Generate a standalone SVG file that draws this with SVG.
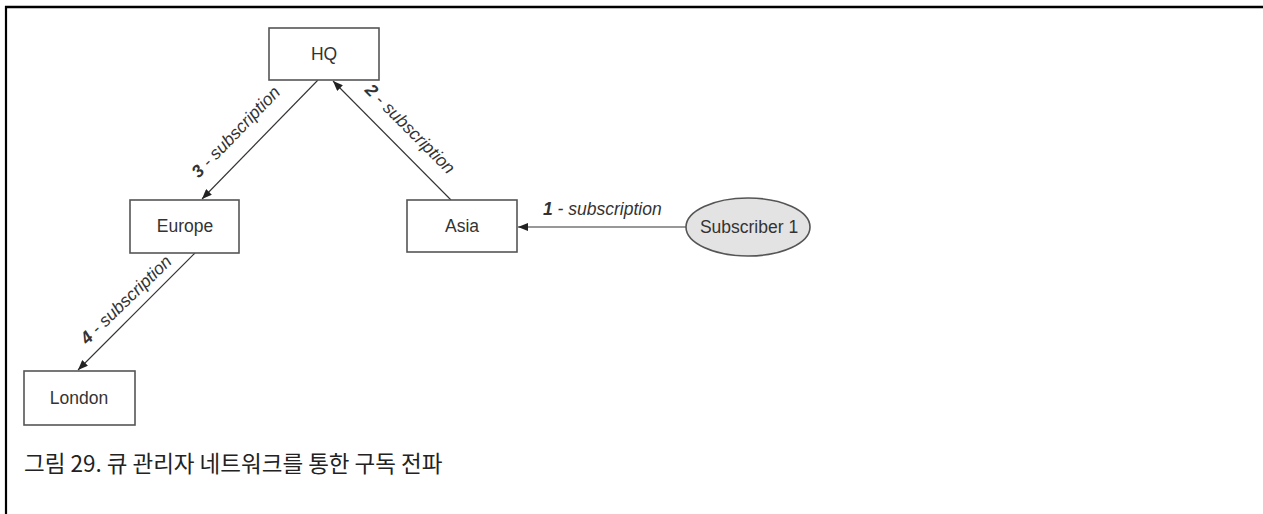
<svg xmlns="http://www.w3.org/2000/svg" width="1263" height="514" viewBox="0 0 1263 514">
<defs>
<style>
.box{fill:#fff;stroke:#555;stroke-width:1.6}
.ell{fill:#e3e3e3;stroke:#555;stroke-width:1.6}
.nl{font-family:"Liberation Sans",Arial,sans-serif;font-size:17.5px;fill:#333;text-anchor:middle}
.el{font-family:"Liberation Sans",Arial,sans-serif;font-size:17.5px;font-style:italic;fill:#333}
.num{font-weight:bold}
.conn{stroke:#333;stroke-width:1.1;fill:none;marker-end:url(#arr)}
.cap{font-family:"Noto Sans CJK KR","Noto Sans",sans-serif;font-size:22.5px;fill:#222}
</style>
<marker id="arr" viewBox="0 0 10 8" refX="10" refY="4" markerWidth="10" markerHeight="8" markerUnits="userSpaceOnUse" orient="auto">
<path d="M0,0 L10,4 L0,8 Z" fill="#222"/>
</marker>
</defs>
<rect width="1263" height="514" fill="#fff"/>
<g id="frame">
<line x1="5" y1="7" x2="1263" y2="7" stroke="#000" stroke-width="2.4"/>
<line x1="6" y1="6" x2="6" y2="514" stroke="#000" stroke-width="2.2"/>
</g>
<g id="connectors">
<line class="conn" x1="686" y1="227" x2="518" y2="227"/>
<line class="conn" x1="451" y1="200" x2="333" y2="81"/>
<line class="conn" x1="318" y1="80" x2="202" y2="199"/>
<line class="conn" x1="195" y1="253" x2="78" y2="370"/>
<text class="el" x="543" y="215"><tspan class="num">1</tspan> - subscription</text>
<text class="el" text-anchor="middle" transform="translate(406,133) rotate(45)"><tspan class="num">2</tspan> - subscription</text>
<text class="el" text-anchor="middle" transform="translate(240,136) rotate(-46)"><tspan class="num">3</tspan> - subscription</text>
<text class="el" text-anchor="middle" transform="translate(130,304) rotate(-44)"><tspan class="num">4</tspan> - subscription</text>
</g>
<g id="hq"><rect class="box" x="269" y="28" width="110" height="52"/><text class="nl" x="324" y="60">HQ</text></g>
<g id="europe"><rect class="box" x="130" y="200" width="109" height="53"/><text class="nl" x="185" y="232">Europe</text></g>
<g id="asia"><rect class="box" x="407" y="200" width="110" height="52"/><text class="nl" x="462" y="232">Asia</text></g>
<g id="subscriber1"><ellipse class="ell" cx="748" cy="227" rx="62" ry="29"/><text class="nl" x="749" y="233">Subscriber 1</text></g>
<g id="london"><rect class="box" x="24" y="371" width="111" height="54"/><text class="nl" x="79" y="404">London</text></g>
<g id="caption"><text class="cap" x="24" y="472">그림 29. 큐 관리자 네트워크를 통한 구독 전파</text></g>
</svg>
